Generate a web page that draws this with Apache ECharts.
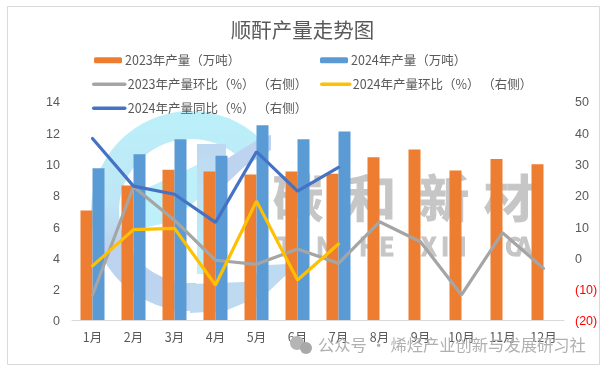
<!DOCTYPE html>
<html>
<head>
<meta charset="utf-8">
<style>
html, body { margin: 0; padding: 0; background: #fff; }
#chart { width: 605px; height: 369px; }
</style>
<script src="https://cdn.jsdelivr.net/npm/echarts@6/dist/echarts.min.js"></script>
</head>
<body>
<div id="chart"></div>
<script>
const FONT = '"Noto Sans CJK SC", "Liberation Sans", sans-serif';
const NUM_FONT = '"Liberation Sans", sans-serif';
const TEXT = "#595959";

const months = ["1月","2月","3月","4月","5月","6月","7月","8月","9月","10月","11月","12月"];

const output2023 = [7.0, 8.6, 9.6, 9.5, 9.3, 9.5, 9.35, 10.4, 10.9, 9.55, 10.3, 9.95];
const output2024 = [9.7, 10.6, 11.55, 10.5, 12.45, 11.55, 12.05];

const mom2023 = [-12, 22.6, 11.9, -0.9, -2.2, 2.7, -1.9, 11.4, 5, -12, 7.9, -3.5];
const mom2024 = [-2.7, 8.9, 9.3, -8.8, 18, -7.2, 4.3];
const yoy2024 = [38, 22.8, 20.2, 11.2, 33.8, 21.2, 28.8];

const chart = echarts.init(document.getElementById("chart"));

function legendAt(name, left, top, w, h) {
    return {
        data: [name],
        left: left,
        top: top,
        itemWidth: w,
        itemHeight: h,
        itemGap: 0,
        padding: 0,
        lineStyle: { width: 3.5 },
        textStyle: { color: TEXT, fontSize: 12.5, fontFamily: FONT, padding: [0, 0, 0, -2] }
    };
}

function wmText(text, x, y, size, weight) {
    return {
        type: "text",
        z: -1,
        style: {
            x: x, y: y, text: text,
            font: weight + " " + size + "px " + FONT,
            fill: "#c6c6c6",
            stroke: "#c6c6c6",
            lineWidth: 1,
            textVerticalAlign: "middle"
        }
    };
}

// watermark letters, placed one by one because they are widely spaced
const letters = [["T",277],["N",316],["H",359],["E",379],["X",421],["I",441],["N",448],["C",505],["A",516]];

// value axis labels sit a little below their tick in the reference
const numRich = {
    n: { color: TEXT, fontSize: 12.5, fontFamily: NUM_FONT, padding: [4, 0, 0, 0] },
    neg: { color: "#ff0000", fontSize: 12.5, fontFamily: NUM_FONT, padding: [4, 0, 0, 0] }
};

chart.setOption({
    animation: false,
    backgroundColor: "#fff",
    title: {
        text: "顺酐产量走势图",
        left: "center",
        top: 20,
        padding: 0,
        textStyle: { color: TEXT, fontSize: 20.5, fontWeight: "normal", fontFamily: FONT }
    },
    legend: [
        legendAt("2023年产量（万吨）", 94, 54, 28, 6),
        legendAt("2024年产量（万吨）", 320, 54, 28, 6),
        legendAt("2023年产量环比（%） （右侧）", 92, 78, 31, 3),
        legendAt("2024年产量环比（%） （右侧）", 320, 78, 28, 3),
        legendAt("2024年产量同比（%） （右侧）", 92, 102, 31, 3)
    ],
    grid: { left: 72, right: 41, top: 101, bottom: 49 },
    xAxis: {
        type: "category",
        data: months,
        axisLine: { lineStyle: { color: "#d9d9d9" } },
        axisTick: { length: 4, lineStyle: { color: "#d9d9d9" } },
        axisLabel: { color: TEXT, fontSize: 12.5, margin: 11, fontFamily: FONT, interval: 0 }
    },
    yAxis: [
        {
            type: "value",
            min: 0,
            max: 14,
            interval: 2,
            splitLine: { show: false },
            axisLine: { show: false },
            axisTick: { show: false },
            axisLabel: { margin: 12, formatter: "{n|{value}}", rich: numRich }
        },
        {
            type: "value",
            min: -20,
            max: 50,
            interval: 10,
            splitLine: { show: false },
            axisLine: { show: false },
            axisTick: { show: false },
            axisLabel: {
                margin: 11,
                formatter: v => v < 0 ? "{neg|(" + Math.abs(v) + ")}" : "{n|" + v + "}",
                rich: numRich
            }
        }
    ],
    graphic: [
        { type: "rect", z: -2, shape: { x: 7.5, y: 6.5, width: 592, height: 358 },
          style: { fill: "none", stroke: "#d9d9d9", lineWidth: 1 } },
        // logo behind the bars
        { type: "sector", z: -2, shape: { cx: 191, cy: 211, r: 100, r0: 72, startAngle: -0.8, endAngle: 1.5, clockwise: false },
          style: { fill: new echarts.graphic.LinearGradient(0, 0, 0, 1, [
              { offset: 0, color: "#baf0f9" },
              { offset: 0.45, color: "#bfe6f6" },
              { offset: 0.68, color: "#bcd2ee" },
              { offset: 1, color: "#bdd5f0" }
          ]) } },
        { type: "polygon", z: -2, smooth: 0.2,
          shape: { points: [[190,284],[244,282],[268,265],[288,264],[286,275],[268,292],[244,303],[225,311],[190,313]] },
          style: { fill: "#bddaf1" } },
        { type: "polygon", z: -2, shape: { points: [[143,190],[197,165],[197,200],[170,222],[143,228]] },
          style: { fill: "#bdf0f8" } },
        { type: "rect", z: -2, shape: { x: 197, y: 144, width: 29, height: 130 },
          style: { fill: new echarts.graphic.LinearGradient(0, 0, 0, 1, [
              { offset: 0, color: "#bdd8f0" },
              { offset: 1, color: "#bef0f8" }
          ]) } },
        { type: "polygon", z: -2, shape: { points: [[225,160],[262,137],[271,135],[271,150],[244,167],[225,185]] },
          style: { fill: "#bdd3ef" } },
        wmText("碳", 273, 198, 50, "bold"),
        wmText("和", 346, 198, 50, "bold"),
        wmText("新", 419, 198, 50, "bold"),
        wmText("材", 484, 198, 50, "bold"),
        ...letters.map(l => wmText(l[0], l[1], 246, 25, "bold")),
        // wechat mark and account name over everything
        { type: "circle", z: 10, shape: { cx: 297, cy: 343, r: 7 }, style: { fill: "#b5b5b5" } },
        { type: "circle", z: 10, shape: { cx: 306, cy: 348, r: 6 }, style: { fill: "#a9a9a9" } },
        { type: "text", z: 10, style: {
            x: 318, y: 345,
            text: "公众号 · 烯烃产业创新与发展研习社",
            font: "normal 16.3px " + FONT,
            fill: "#b0b0b0",
            textVerticalAlign: "middle"
        } }
    ],
    series: [
        { name: "2023年产量（万吨）", type: "bar", data: output2023, barWidth: 12, barGap: 0, itemStyle: { color: "#ed7d31" } },
        { name: "2024年产量（万吨）", type: "bar", data: output2024, barWidth: 12, barGap: 0, itemStyle: { color: "#5b9bd5" } },
        { name: "2023年产量环比（%） （右侧）", type: "line", yAxisIndex: 1, data: mom2023, symbol: "none",
          lineStyle: { color: "#a5a5a5", width: 3.2, cap: "round" }, itemStyle: { color: "#a5a5a5" } },
        { name: "2024年产量环比（%） （右侧）", type: "line", yAxisIndex: 1, data: mom2024, symbol: "none",
          lineStyle: { color: "#ffc000", width: 3.2, cap: "round" }, itemStyle: { color: "#ffc000" } },
        { name: "2024年产量同比（%） （右侧）", type: "line", yAxisIndex: 1, data: yoy2024, symbol: "none",
          lineStyle: { color: "#4472c4", width: 3.2, cap: "round" }, itemStyle: { color: "#4472c4" } }
    ]
});
</script>
</body>
</html>
